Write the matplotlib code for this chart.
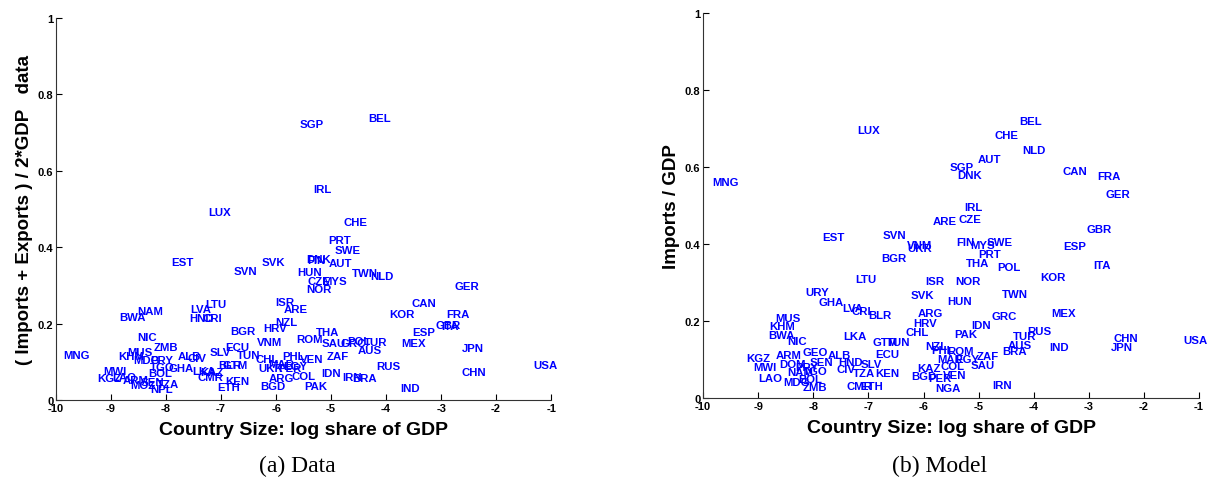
import matplotlib
matplotlib.use("Agg")
import matplotlib.pyplot as plt

# === (a) Data: 국가별 무역 개방도 ===
data_codes = ["BEL", "SGP", "IRL", "LUX", "CHE", "PRT", "SWE", "AUT", "DNK", "FIN",
              "EST", "SVK", "SVN", "HUN", "TWN", "NLD", "CZE", "MYS", "NOR", "GER",
              "CAN", "ISR", "ARE", "LTU", "LVA", "HND", "CRI", "KOR", "FRA", "NAM",
              "BWA", "NZL", "HRV", "GBR", "ITA", "BGR", "ESP", "THA", "NIC", "MEX",
              "ROM", "SAU", "GRC", "POL", "TUR", "AUS", "VNM", "ECU", "ZMB", "JPN",
              "SLV", "TUN", "MNG", "KHM", "MUS", "MDG", "PRY", "ALB", "CIV", "CHL",
              "PHL", "VEN", "TGO", "GHA", "BLR", "GTM", "LKA", "KAZ", "CMR", "KEN",
              "ETH", "MWI", "KGZ", "ARM", "LAO", "BOL", "MOZ", "NPL", "TZA", "SEN",
              "UKR", "PER", "MAR", "EGY", "ARG", "COL", "BGD", "PAK", "IDN", "IRN",
              "BRA", "ZAF", "RUS", "CHN", "USA", "IND"]
data_size = [-4.32, -5.57, -5.32, -7.23, -4.77, -5.06, -4.94, -5.05, -5.45, -5.43,
             -7.91, -6.27, -6.78, -5.61, -4.63, -4.28, -5.43, -5.16, -5.46, -2.75,
             -3.53, -6.01, -5.87, -7.29, -7.56, -7.58, -7.34, -3.95, -2.91, -8.53,
             -8.85, -6.01, -6.23, -3.10, -2.99, -6.83, -3.53, -5.28, -8.53, -3.73,
             -5.63, -5.17, -4.83, -4.70, -4.41, -4.52, -6.34, -6.92, -8.23, -2.62,
             -7.20, -6.72, -9.87, -8.87, -8.71, -8.60, -8.29, -7.78, -7.61, -6.38,
             -5.88, -5.56, -8.29, -7.96, -7.05, -6.98, -7.52, -7.38, -7.43, -6.92,
             -7.07, -9.14, -9.25, -8.78, -8.98, -8.32, -8.65, -8.29, -8.16, -8.47,
             -6.32, -5.96, -6.14, -5.87, -6.14, -5.72, -6.28, -5.48, -5.17, -4.79,
             -4.61, -5.08, -4.17, -2.62, -1.33, -3.75]
data_share = [0.738, 0.723, 0.552, 0.492, 0.466, 0.419, 0.393, 0.359, 0.369, 0.366,
              0.361, 0.361, 0.338, 0.335, 0.332, 0.325, 0.312, 0.312, 0.291, 0.298,
              0.254, 0.257, 0.238, 0.251, 0.238, 0.215, 0.215, 0.225, 0.225, 0.233,
              0.217, 0.204, 0.188, 0.196, 0.194, 0.181, 0.178, 0.178, 0.165, 0.149,
              0.160, 0.149, 0.149, 0.154, 0.152, 0.131, 0.152, 0.139, 0.139, 0.136,
              0.126, 0.118, 0.118, 0.115, 0.126, 0.105, 0.105, 0.115, 0.110, 0.107,
              0.115, 0.107, 0.086, 0.084, 0.092, 0.092, 0.076, 0.073, 0.060, 0.050,
              0.034, 0.076, 0.058, 0.052, 0.060, 0.071, 0.039, 0.029, 0.042, 0.047,
              0.084, 0.084, 0.094, 0.089, 0.058, 0.063, 0.037, 0.037, 0.071, 0.060,
              0.058, 0.115, 0.089, 0.073, 0.092, 0.031]

# === (b) Model: 수입 / GDP ===
model_codes = ["LUX", "BEL", "CHE", "NLD", "AUT", "SGP", "DNK", "CAN", "FRA", "GER",
               "MNG", "IRL", "CZE", "ARE", "EST", "SVN", "FIN", "MYS", "SWE", "VNM",
               "UKR", "BGR", "PRT", "THA", "POL", "GBR", "ESP", "ITA", "KOR", "TWN",
               "MEX", "RUS", "TUR", "AUS", "BRA", "IND", "CHN", "JPN", "USA", "IRN",
               "LTU", "URY", "GHA", "LVA", "CRI", "BLR", "MUS", "KHM", "BWA", "NIC",
               "LKA", "GTM", "TUN", "ARM", "GEO", "ALB", "ECU", "KGZ", "SEN", "HND",
               "SLV", "MWI", "DOM", "NAM", "PRY", "TGO", "CIV", "TZA", "KEN", "LAO",
               "MDG", "BOL", "ZMB", "CMR", "ETH", "ISR", "NOR", "SVK", "HUN", "ARG",
               "HRV", "IDN", "GRC", "CHL", "PAK", "NZL", "PHL", "ROM", "MAR", "EGY",
               "ZAF", "SAU", "KAZ", "COL", "BGD", "PER", "VEN", "NGA"]
model_size = [-7.21, -4.27, -4.72, -4.21, -5.01, -5.52, -5.39, -3.47, -2.85, -2.69,
              -9.84, -5.26, -5.37, -5.83, -7.84, -6.75, -5.41, -5.15, -4.86, -6.30,
              -6.30, -6.77, -5.01, -5.23, -4.66, -3.05, -3.47, -2.92, -3.88, -4.57,
              -3.68, -4.12, -4.37, -4.47, -4.57, -3.72, -2.56, -2.60, -1.29, -4.76,
              -7.24, -8.15, -7.91, -7.48, -7.30, -7.01, -8.69, -8.80, -8.82, -8.48,
              -7.46, -6.92, -6.66, -8.68, -8.20, -7.73, -6.88, -9.22, -8.06, -7.55,
              -7.15, -9.09, -8.62, -8.48, -8.33, -8.19, -7.57, -7.28, -6.88, -9.00,
              -8.55, -8.28, -8.19, -7.39, -7.15, -5.97, -5.43, -6.23, -5.57, -6.10,
              -6.19, -5.14, -4.77, -6.32, -5.45, -5.97, -5.86, -5.57, -5.75, -5.43,
              -5.03, -5.14, -6.12, -5.70, -6.23, -5.92, -5.64, -5.79]
model_share = [0.696, 0.719, 0.683, 0.644, 0.621, 0.600, 0.579, 0.590, 0.577, 0.530,
               0.561, 0.496, 0.465, 0.460, 0.418, 0.423, 0.405, 0.397, 0.405, 0.397,
               0.390, 0.364, 0.374, 0.351, 0.340, 0.439, 0.395, 0.345, 0.314, 0.270,
               0.221, 0.174, 0.161, 0.138, 0.122, 0.132, 0.156, 0.132, 0.151, 0.034,
               0.309, 0.275, 0.249, 0.234, 0.226, 0.216, 0.208, 0.187, 0.164, 0.148,
               0.161, 0.145, 0.145, 0.112, 0.119, 0.112, 0.114, 0.104, 0.094, 0.094,
               0.088, 0.081, 0.088, 0.068, 0.081, 0.070, 0.075, 0.065, 0.065, 0.052,
               0.042, 0.049, 0.029, 0.031, 0.031, 0.304, 0.304, 0.268, 0.252, 0.221,
               0.195, 0.190, 0.213, 0.171, 0.166, 0.135, 0.125, 0.122, 0.101, 0.101,
               0.109, 0.086, 0.078, 0.083, 0.057, 0.052, 0.060, 0.026]

x_ticks = [-10, -9, -8, -7, -6, -5, -4, -3, -2, -1]
y_ticks = [0, 0.2, 0.4, 0.6, 0.8, 1]
y_tick_labels = ["0", "0.2", "0.4", "0.6", "0.8", "1"]

LABEL_COLOR = "#0000ff"
SANS = "Liberation Sans"


def draw_panel(ax, codes, size, share, ylabel):
    # 국가 코드를 점 대신 텍스트로 찍음 (MATLAB text 기본: 왼쪽/가운데 정렬)
    for c, x, y in zip(codes, size, share):
        ax.text(x, y, c, color=LABEL_COLOR, fontsize=8.2, fontweight="bold",
                family=SANS, ha="left", va="center")
    ax.set_xlim(-10, -1)
    ax.set_ylim(0, 1)
    ax.set_xticks(x_ticks)
    ax.set_xticklabels([str(t) for t in x_ticks])
    ax.set_yticks(y_ticks)
    ax.set_yticklabels(y_tick_labels)
    ax.tick_params(direction="in", length=4, width=0.8, labelsize=8, pad=2)
    for lab in ax.get_xticklabels() + ax.get_yticklabels():
        lab.set_fontweight("bold")
        lab.set_family(SANS)
    ax.spines["top"].set_visible(False)
    ax.spines["right"].set_visible(False)
    for s in ("left", "bottom"):
        ax.spines[s].set_linewidth(0.8)
        ax.spines[s].set_color("#333333")
    ax.set_xlabel("Country Size: log share of GDP", fontsize=14,
                  fontweight="bold", family=SANS, labelpad=6)
    ax.set_ylabel(ylabel, fontsize=13.5, fontweight="bold", family=SANS, labelpad=3)


fig = plt.figure(figsize=(12.08, 4.89), dpi=100)
ax1 = fig.add_axes([0.0464, 0.180, 0.4098, 0.781])
ax2 = fig.add_axes([0.582, 0.184, 0.4106, 0.787])

draw_panel(ax1, data_codes, data_size, data_share,
           "( Imports + Exports ) / 2*GDP   data")
draw_panel(ax2, model_codes, model_size, model_share, "Imports / GDP")

fig.text(297 / 1208, 1 - 466 / 489, "(a) Data", ha="center", va="center",
         fontsize=17, family="Liberation Serif")
fig.text(940 / 1208, 1 - 466 / 489, "(b) Model", ha="center", va="center",
         fontsize=17, family="Liberation Serif")

fig.savefig("out.png", dpi=100)
plt.close(fig)
